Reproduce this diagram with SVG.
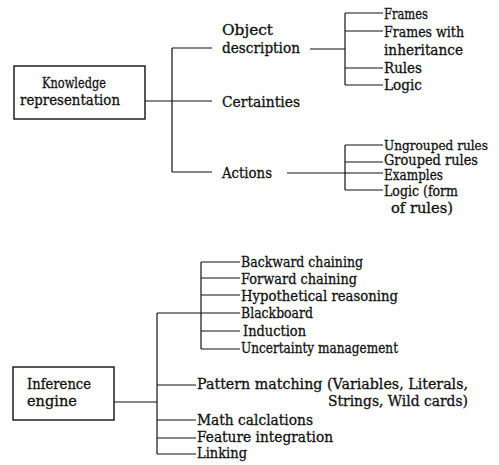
<svg xmlns="http://www.w3.org/2000/svg" width="499" height="465" viewBox="0 0 499 465">
<style>
text{font-family:"DejaVu Serif","Liberation Serif",serif;font-size:14px;fill:#111;stroke:#111;stroke-width:0.3;}
.box{fill:#fff;stroke:#111;stroke-width:1.4;}
.ln{fill:none;stroke:#111;stroke-width:1.2;}
</style>
<rect width="499" height="465" fill="#fff"/>
<g id="connectors">
<path class="ln" d="M145 101H172M172 48V172M172 48H212M172 101H212M172 172H212"/>
<path class="ln" d="M310 49H345M345 13V85M345 13H383M345 31H383M345 68H383M345 85H383"/>
<path class="ln" d="M287 173H383M345 145V190M345 145H383M345 162H383M345 190H383"/>
<path class="ln" d="M114 402H157M157 313V454M157 313H240M201 262V349M201 262H240M201 278H240M201 295H240M201 331H240M201 349H240"/>
<path class="ln" d="M157 385H196M157 420H196M157 438H196M157 454H196"/>
</g>
<g id="knowledge-representation">
<rect class="box" x="14" y="66" width="131" height="53"/>
<text x="42" y="88" textLength="64" lengthAdjust="spacingAndGlyphs">Knowledge</text>
<text x="20" y="105" textLength="100" lengthAdjust="spacingAndGlyphs">representation</text>
</g>
<g id="object-description">
<text x="222" y="35" textLength="51" lengthAdjust="spacingAndGlyphs">Object</text>
<text x="222" y="53" textLength="78" lengthAdjust="spacingAndGlyphs">description</text>
</g>
<g id="certainties"><text x="222" y="107" textLength="78" lengthAdjust="spacingAndGlyphs">Certainties</text></g>
<g id="actions"><text x="222" y="178" textLength="50" lengthAdjust="spacingAndGlyphs">Actions</text></g>
<g id="frames"><text x="384" y="19" textLength="44" lengthAdjust="spacingAndGlyphs">Frames</text></g>
<g id="frames-inheritance">
<text x="384" y="37" textLength="80" lengthAdjust="spacingAndGlyphs">Frames with</text>
<text x="384" y="55" textLength="79" lengthAdjust="spacingAndGlyphs">inheritance</text>
</g>
<g id="rules"><text x="384" y="73" textLength="38" lengthAdjust="spacingAndGlyphs">Rules</text></g>
<g id="logic"><text x="384" y="90" textLength="38" lengthAdjust="spacingAndGlyphs">Logic</text></g>
<g id="ungrouped-rules"><text x="384" y="150" style="font-size:12.5px" textLength="104" lengthAdjust="spacingAndGlyphs">Ungrouped rules</text></g>
<g id="grouped-rules"><text x="384" y="165" textLength="94" lengthAdjust="spacingAndGlyphs">Grouped rules</text></g>
<g id="examples"><text x="384" y="180" textLength="59" lengthAdjust="spacingAndGlyphs">Examples</text></g>
<g id="logic-form">
<text x="384" y="196" textLength="74" lengthAdjust="spacingAndGlyphs">Logic (form</text>
<text x="391" y="213" textLength="62" lengthAdjust="spacingAndGlyphs">of rules)</text>
</g>
<g id="inference-engine">
<rect class="box" x="13" y="367" width="101" height="53"/>
<text x="27" y="389" textLength="64" lengthAdjust="spacingAndGlyphs">Inference</text>
<text x="27" y="406" textLength="50" lengthAdjust="spacingAndGlyphs">engine</text>
</g>
<g id="backward-chaining"><text x="241" y="267" textLength="122" lengthAdjust="spacingAndGlyphs">Backward chaining</text></g>
<g id="forward-chaining"><text x="241" y="284" textLength="116" lengthAdjust="spacingAndGlyphs">Forward chaining</text></g>
<g id="hypothetical-reasoning"><text x="241" y="301" textLength="157" lengthAdjust="spacingAndGlyphs">Hypothetical reasoning</text></g>
<g id="blackboard"><text x="241" y="318" textLength="72" lengthAdjust="spacingAndGlyphs">Blackboard</text></g>
<g id="induction"><text x="243" y="336" textLength="63" lengthAdjust="spacingAndGlyphs">Induction</text></g>
<g id="uncertainty-management"><text x="241" y="353" textLength="157" lengthAdjust="spacingAndGlyphs">Uncertainty management</text></g>
<g id="pattern-matching">
<text x="197" y="389" textLength="271" lengthAdjust="spacingAndGlyphs">Pattern matching (Variables, Literals,</text>
<text x="328" y="406" textLength="140" lengthAdjust="spacingAndGlyphs">Strings, Wild cards)</text>
</g>
<g id="math-calculations"><text x="197" y="425" textLength="116" lengthAdjust="spacingAndGlyphs">Math calclations</text></g>
<g id="feature-integration"><text x="197" y="442" textLength="136" lengthAdjust="spacingAndGlyphs">Feature integration</text></g>
<g id="linking"><text x="197" y="458" textLength="50" lengthAdjust="spacingAndGlyphs">Linking</text></g>
</svg>
